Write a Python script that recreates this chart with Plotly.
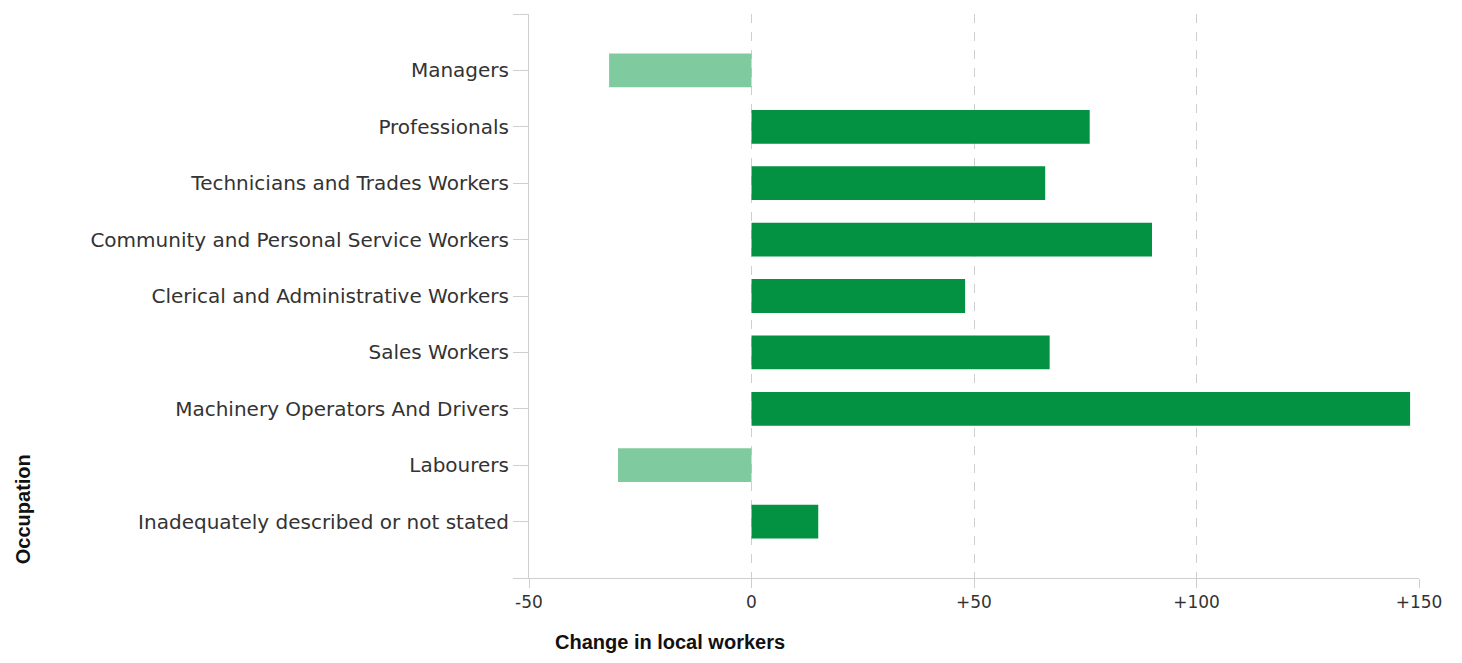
import plotly.graph_objects as go

occupations = [
    "Managers",
    "Professionals",
    "Technicians and Trades Workers",
    "Community and Personal Service Workers",
    "Clerical and Administrative Workers",
    "Sales Workers",
    "Machinery Operators And Drivers",
    "Labourers",
    "Inadequately described or not stated",
]
change = [-32, 76, 66, 90, 48, 67, 148, -30, 15]

x_ticks = [-50, 0, 50, 100, 150]
x_tick_labels = ["-50", "0", "+50", "+100", "+150"]

POS = "#039142"
NEG = "#80ca9f"
GRID = "#cfcfcf"

pos = list(range(len(occupations)))
colors = [NEG if v < 0 else POS for v in change]

fig = go.Figure(
    go.Bar(
        x=change,
        y=pos,
        orientation="h",
        width=0.6,
        marker=dict(color=colors, line=dict(width=0)),
        hovertext=occupations,
        showlegend=False,
    )
)

fig.update_xaxes(
    range=[-50, 150],
    tickvals=x_ticks,
    ticktext=x_tick_labels,
    showgrid=True,
    gridcolor=GRID,
    griddash="dash",
    gridwidth=1,
    zeroline=False,
    showline=True,
    linecolor=GRID,
    linewidth=1,
    ticks="outside",
    ticklen=9,
    tickcolor=GRID,
    tickfont=dict(family="DejaVu Sans", size=17, color="#333333"),
)

fig.update_yaxes(
    range=[len(occupations), -1],
    tickvals=[-1] + pos + [len(occupations)],
    ticktext=[""] + occupations + [""],
    showgrid=False,
    zeroline=False,
    showline=True,
    linecolor=GRID,
    linewidth=1,
    ticks="outside",
    ticklen=15,
    tickcolor=GRID,
    tickfont=dict(family="DejaVu Sans", size=20, color="#333333"),
)

fig.add_annotation(
    text="<b>Change in local workers</b>",
    xref="paper", yref="paper", x=0.158, y=-0.1135,
    xanchor="center", yanchor="middle", showarrow=False,
    font=dict(family="Liberation Sans", size=20, color="#111111"),
)
fig.add_annotation(
    text="<b>Occupation</b>",
    xref="paper", yref="paper", x=-0.5685, y=0.122,
    xanchor="center", yanchor="middle", showarrow=False, textangle=-90,
    font=dict(family="Liberation Sans", size=20, color="#111111"),
)

# page body has an 8px margin, so the figure is made smaller to fit the window
fig.update_layout(
    width=1446,
    height=647,
    margin=dict(l=521, r=35, t=6, b=77),
    plot_bgcolor="white",
    paper_bgcolor="white",
    bargap=0.4,
)

fig.write_html("out.html")
